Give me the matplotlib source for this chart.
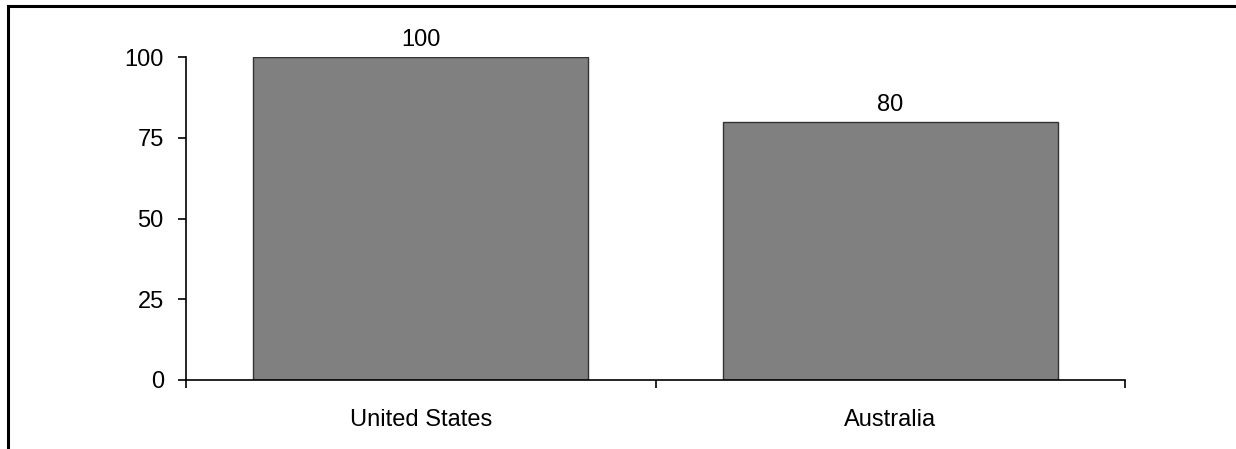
import matplotlib
matplotlib.use("Agg")
import matplotlib.pyplot as plt
from matplotlib.patches import Rectangle

categories = ["United States", "Australia"]
values = [100, 80]
value_labels = ["100", "80"]
yticks = [0, 25, 50, 75, 100]

plt.rcParams["font.family"] = ["Liberation Sans", "DejaVu Sans"]

W, H = 1236, 449
FS = 17
fig = plt.figure(figsize=(W / 100, H / 100), dpi=100)
ax = fig.add_axes([186 / W, 1 - 380 / H, (1125 - 186) / W, (380 - 57) / H])

x = range(len(categories))
bars = ax.bar(x, values, width=0.714, color="#808080", edgecolor="#333333", linewidth=1.0)
for b, lab in zip(bars, value_labels):
    ax.annotate(lab, (b.get_x() + b.get_width() / 2, b.get_height()),
                xytext=(0, 4), textcoords="offset points",
                ha="center", va="bottom", fontsize=FS)

ax.set_xlim(-0.5, len(categories) - 0.5)
ax.set_ylim(0, 100)
ax.set_yticks(yticks)
ax.set_yticklabels([str(t) for t in yticks], fontsize=FS)
ax.set_xticks([i - 0.5 for i in range(len(categories) + 1)])
ax.set_xticklabels([])
ax.set_xticks(list(x), minor=True)
ax.set_xticklabels(categories, minor=True, fontsize=FS)
ax.tick_params(axis="x", which="minor", length=0, pad=21)
ax.tick_params(axis="x", which="major", length=6, width=1.2, direction="out")
ax.tick_params(axis="y", length=6, width=1.2, direction="out", pad=10)

for side in ("top", "right"):
    ax.spines[side].set_visible(False)
for side in ("left", "bottom"):
    ax.spines[side].set_linewidth(1.2)

# outer frame around the figure
fig.patches.append(Rectangle((8 / W, -0.1), 1.2, 1 - 6 / H + 0.1,
                             transform=fig.transFigure, fill=False,
                             edgecolor="black", linewidth=2.2))

fig.savefig("out.png", dpi=100)
